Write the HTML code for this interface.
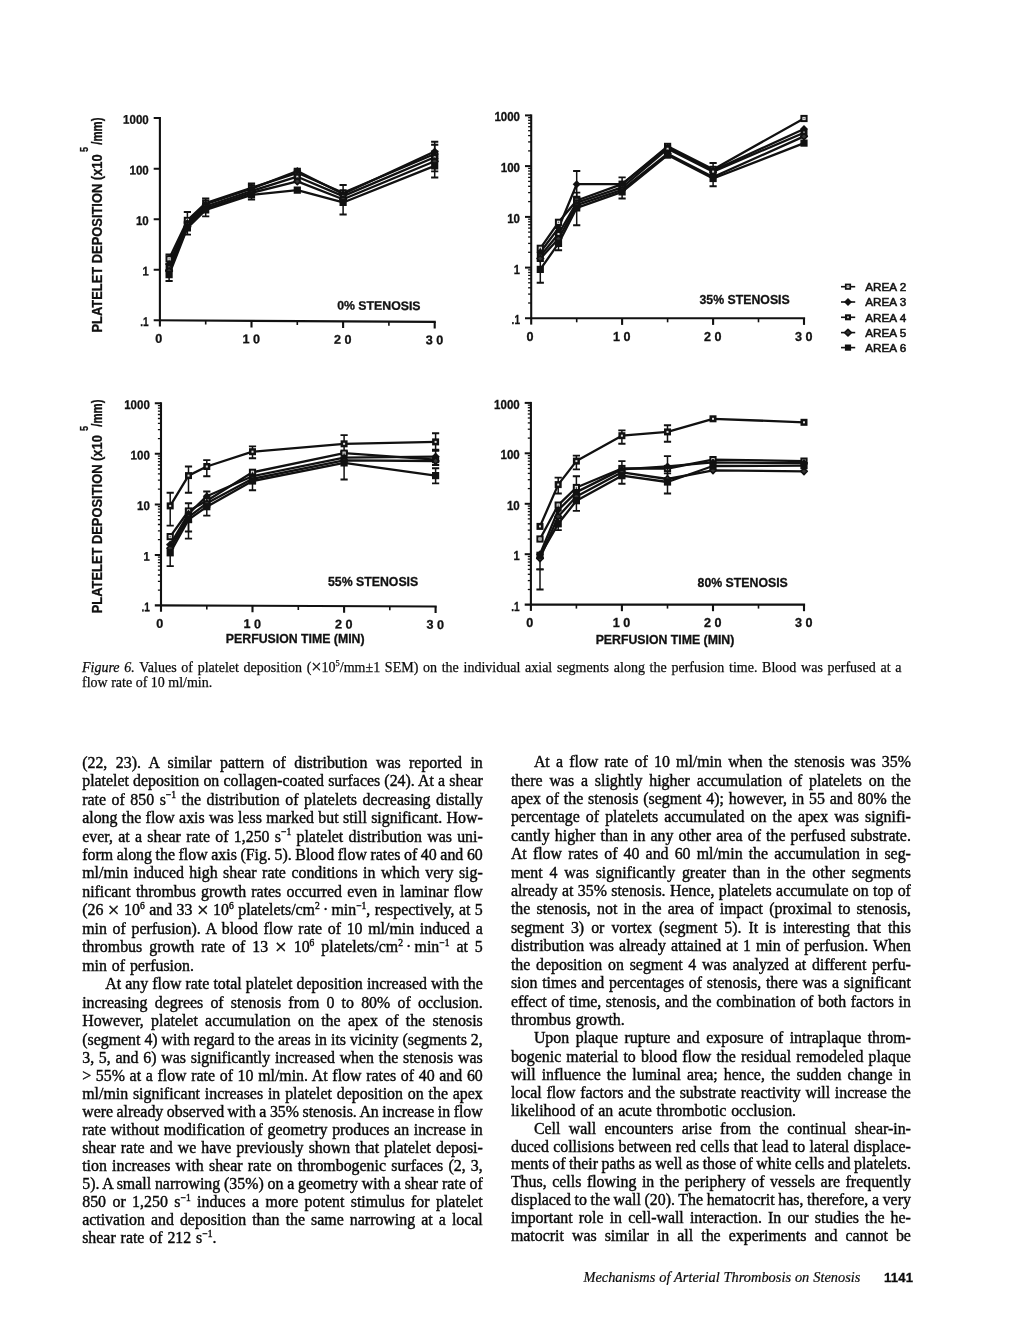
<!DOCTYPE html>
<html lang="en">
<head>
<meta charset="utf-8">
<title>Mechanisms of Arterial Thrombosis on Stenosis - 1141</title>
<style>
html,body{margin:0;padding:0;background:#fff}
body{width:1020px;height:1320px;position:relative;overflow:hidden;color:#0a0a0a}
#pg{position:absolute;left:0;top:0;width:1020px;height:1320px;will-change:transform}
#fig{position:absolute;left:0;top:0}
#fig text{font-family:"Liberation Sans", sans-serif;fill:#111}
.tk{font-size:12.6px;font-weight:bold;stroke:#111;stroke-width:.3px}
.tt{font-size:12.3px;font-weight:bold;stroke:#111;stroke-width:.3px}
.yl{font-size:12.9px;font-weight:bold;stroke:#111;stroke-width:.25px}
.lg{font-size:11.7px;stroke:#111;stroke-width:.55px}
.ln,.cap,.ft,.pn{position:absolute;white-space:nowrap;margin:0}
.ln{font-family:"Liberation Serif", serif;font-size:15.9px;line-height:18px;height:18px;-webkit-text-stroke:.4px #0a0a0a;word-spacing:.9px}
.ln.j{word-spacing:-1.5px}
.j{text-align:justify;text-align-last:justify;white-space:normal}
.ln sup,.cap sup{font-size:.6em;line-height:0;vertical-align:baseline;position:relative;top:-.68em}
.x{font-size:1.3em;line-height:0;position:relative;top:.06em}
.cap{font-family:"Liberation Serif", serif;font-size:14px;line-height:15px;height:15px;-webkit-text-stroke:.25px #111}
.ft{font-family:"Liberation Serif", serif;font-size:14.4px;line-height:18px;text-align:justify;text-align-last:justify;white-space:normal;-webkit-text-stroke:.2px #111}
.pn{font-family:"Liberation Sans", sans-serif;font-size:13.1px;font-weight:bold;line-height:16px;letter-spacing:.2px;-webkit-text-stroke:.3px #111}
</style>
</head>
<body>
<div id="pg">
<svg id="fig" width="1020" height="660" viewBox="0 0 1020 660">
<g id="c1" transform="translate(159.9 320.3) skewY(0.3336) translate(-159.9 -320.3)">
<path d="M159.9 117.1V326.6" stroke="#111" stroke-width="2.1" fill="none"/>
<path d="M153.7 320.3H435.8" stroke="#111" stroke-width="2.1" fill="none"/>
<text x="140.3" y="326.2" textLength="8.4" lengthAdjust="spacingAndGlyphs" class="tk">.1</text>
<path d="M153.7 269.8H159.9" stroke="#111" stroke-width="2"/>
<text x="142.5" y="275.6" textLength="6.2" lengthAdjust="spacingAndGlyphs" class="tk">1</text>
<path d="M153.7 219.2H159.9" stroke="#111" stroke-width="2"/>
<text x="135.9" y="225.1" textLength="12.8" lengthAdjust="spacingAndGlyphs" class="tk">10</text>
<path d="M153.7 168.7H159.9" stroke="#111" stroke-width="2"/>
<text x="129.5" y="174.6" textLength="19.2" lengthAdjust="spacingAndGlyphs" class="tk">100</text>
<path d="M153.7 118.1H159.9" stroke="#111" stroke-width="2"/>
<text x="123.1" y="124.0" textLength="25.6" lengthAdjust="spacingAndGlyphs" class="tk">1000</text>
<path d="M205.7 320.3v4.0" stroke="#111" stroke-width="1.6"/>
<path d="M251.5 320.3v6.6" stroke="#111" stroke-width="2.1"/>
<path d="M297.3 320.3v4.0" stroke="#111" stroke-width="1.6"/>
<path d="M343.1 320.3v6.6" stroke="#111" stroke-width="2.1"/>
<path d="M388.9 320.3v4.0" stroke="#111" stroke-width="1.6"/>
<path d="M434.7 320.3v6.6" stroke="#111" stroke-width="2.1"/>
<text x="158.7" y="342.7" text-anchor="middle" class="tk">0</text>
<text x="251.2" y="342.7" text-anchor="middle" class="tk">1 0</text>
<text x="342.8" y="342.7" text-anchor="middle" class="tk">2 0</text>
<text x="434.4" y="342.7" text-anchor="middle" class="tk">3 0</text>

<text x="337.2" y="308.5" class="tt">0% STENOSIS</text>
<path d="M169.1 264.0V254.5" stroke="#111" stroke-width="1.5" fill="none"/><path d="M165.5 264.0h7.2M165.5 254.5h7.2" stroke="#111" stroke-width="1.9" fill="none"/>
<path d="M187.4 228.7V211.8" stroke="#111" stroke-width="1.5" fill="none"/><path d="M183.8 228.7h7.2M183.8 211.8h7.2" stroke="#111" stroke-width="1.9" fill="none"/>
<path d="M205.7 207.6V198.2" stroke="#111" stroke-width="1.5" fill="none"/><path d="M202.1 207.6h7.2M202.1 198.2h7.2" stroke="#111" stroke-width="1.9" fill="none"/>
<path d="M251.5 191.1V183.0" stroke="#111" stroke-width="1.5" fill="none"/><path d="M247.9 191.1h7.2M247.9 183.0h7.2" stroke="#111" stroke-width="1.9" fill="none"/>
<path d="M343.1 198.2V183.9" stroke="#111" stroke-width="1.5" fill="none"/><path d="M339.5 198.2h7.2M339.5 183.9h7.2" stroke="#111" stroke-width="1.9" fill="none"/>
<path d="M434.7 159.7V143.1" stroke="#111" stroke-width="1.5" fill="none"/><path d="M431.1 159.7h7.2M431.1 143.1h7.2" stroke="#111" stroke-width="1.9" fill="none"/>
<path d="M297.3 172.5V168.0" stroke="#111" stroke-width="1.5" fill="none"/><path d="M293.7 172.5h7.2M293.7 168.0h7.2" stroke="#111" stroke-width="1.9" fill="none"/>
<path d="M434.7 157.0V140.2" stroke="#111" stroke-width="1.5" fill="none"/><path d="M431.1 157.0h7.2M431.1 140.2h7.2" stroke="#111" stroke-width="1.9" fill="none"/>
<path d="M434.7 169.8V152.4" stroke="#111" stroke-width="1.5" fill="none"/><path d="M431.1 169.8h7.2M431.1 152.4h7.2" stroke="#111" stroke-width="1.9" fill="none"/>
<path d="M169.1 281.0V269.8" stroke="#111" stroke-width="1.5" fill="none"/><path d="M165.5 281.0h7.2M165.5 269.8h7.2" stroke="#111" stroke-width="1.9" fill="none"/>
<path d="M187.4 234.4V221.5" stroke="#111" stroke-width="1.5" fill="none"/><path d="M183.8 234.4h7.2M183.8 221.5h7.2" stroke="#111" stroke-width="1.9" fill="none"/>
<path d="M205.7 216.1V205.1" stroke="#111" stroke-width="1.5" fill="none"/><path d="M202.1 216.1h7.2M202.1 205.1h7.2" stroke="#111" stroke-width="1.9" fill="none"/>
<path d="M251.5 199.1V189.9" stroke="#111" stroke-width="1.5" fill="none"/><path d="M247.9 199.1h7.2M247.9 189.9h7.2" stroke="#111" stroke-width="1.9" fill="none"/>
<path d="M343.1 213.4V193.7" stroke="#111" stroke-width="1.5" fill="none"/><path d="M339.5 213.4h7.2M339.5 193.7h7.2" stroke="#111" stroke-width="1.9" fill="none"/>
<path d="M434.7 175.9V157.0" stroke="#111" stroke-width="1.5" fill="none"/><path d="M431.1 175.9h7.2M431.1 157.0h7.2" stroke="#111" stroke-width="1.9" fill="none"/>
<polyline points="169.1,258.8 187.4,220.3 205.7,202.9 251.5,187.2 297.3,172.0 343.1,191.7 434.7,152.4" fill="none" stroke="#111" stroke-width="2.3" stroke-linejoin="round"/>
<polyline points="169.1,264.0 187.4,222.8 205.7,204.0 251.5,188.2 297.3,170.2 343.1,193.0 434.7,149.9" fill="none" stroke="#111" stroke-width="2.3" stroke-linejoin="round"/>
<polyline points="169.1,267.7 187.4,224.1 205.7,206.3 251.5,190.5 297.3,175.9 343.1,195.1 434.7,155.7" fill="none" stroke="#111" stroke-width="2.3" stroke-linejoin="round"/>
<polyline points="169.1,270.9 187.4,226.4 205.7,208.2 251.5,192.3 297.3,180.6 343.1,198.2 434.7,159.7" fill="none" stroke="#111" stroke-width="2.3" stroke-linejoin="round"/>
<polyline points="169.1,274.6 187.4,227.7 205.7,209.6 251.5,194.4 297.3,189.3 343.1,201.4 434.7,164.3" fill="none" stroke="#111" stroke-width="2.3" stroke-linejoin="round"/>
<rect x="166.5" y="256.2" width="5.2" height="5.2" fill="#eee" stroke="#111" stroke-width="2"/><rect x="168.4" y="258.1" width="1.4" height="1.4" fill="#666"/>
<rect x="184.8" y="217.7" width="5.2" height="5.2" fill="#eee" stroke="#111" stroke-width="2"/><rect x="186.7" y="219.6" width="1.4" height="1.4" fill="#666"/>
<rect x="203.1" y="200.3" width="5.2" height="5.2" fill="#eee" stroke="#111" stroke-width="2"/><rect x="205.0" y="202.2" width="1.4" height="1.4" fill="#666"/>
<rect x="248.9" y="184.6" width="5.2" height="5.2" fill="#eee" stroke="#111" stroke-width="2"/><rect x="250.8" y="186.5" width="1.4" height="1.4" fill="#666"/>
<rect x="294.7" y="169.4" width="5.2" height="5.2" fill="#eee" stroke="#111" stroke-width="2"/><rect x="296.6" y="171.3" width="1.4" height="1.4" fill="#666"/>
<rect x="340.5" y="189.1" width="5.2" height="5.2" fill="#eee" stroke="#111" stroke-width="2"/><rect x="342.4" y="191.0" width="1.4" height="1.4" fill="#666"/>
<rect x="432.1" y="149.8" width="5.2" height="5.2" fill="#eee" stroke="#111" stroke-width="2"/><rect x="434.0" y="151.7" width="1.4" height="1.4" fill="#666"/>
<path d="M165.1 264.0L169.1 260.0L173.1 264.0L169.1 268.0Z" fill="#111"/>
<path d="M183.4 222.8L187.4 218.8L191.4 222.8L187.4 226.8Z" fill="#111"/>
<path d="M201.7 204.0L205.7 200.0L209.7 204.0L205.7 208.0Z" fill="#111"/>
<path d="M247.5 188.2L251.5 184.2L255.5 188.2L251.5 192.2Z" fill="#111"/>
<path d="M293.3 170.2L297.3 166.2L301.3 170.2L297.3 174.2Z" fill="#111"/>
<path d="M339.1 193.0L343.1 189.0L347.1 193.0L343.1 197.0Z" fill="#111"/>
<path d="M430.7 149.9L434.7 145.9L438.7 149.9L434.7 153.9Z" fill="#111"/>
<rect x="165.6" y="264.2" width="7.0" height="7.0" fill="#111"/><rect x="168.1" y="266.7" width="2.0" height="2.0" fill="#ddd"/>
<rect x="183.9" y="220.6" width="7.0" height="7.0" fill="#111"/><rect x="186.4" y="223.1" width="2.0" height="2.0" fill="#ddd"/>
<rect x="202.2" y="202.8" width="7.0" height="7.0" fill="#111"/><rect x="204.7" y="205.3" width="2.0" height="2.0" fill="#ddd"/>
<rect x="248.0" y="187.0" width="7.0" height="7.0" fill="#111"/><rect x="250.5" y="189.5" width="2.0" height="2.0" fill="#ddd"/>
<rect x="293.8" y="172.4" width="7.0" height="7.0" fill="#111"/><rect x="296.3" y="174.9" width="2.0" height="2.0" fill="#ddd"/>
<rect x="339.6" y="191.6" width="7.0" height="7.0" fill="#111"/><rect x="342.1" y="194.1" width="2.0" height="2.0" fill="#ddd"/>
<rect x="431.2" y="152.2" width="7.0" height="7.0" fill="#111"/><rect x="433.7" y="154.7" width="2.0" height="2.0" fill="#ddd"/>
<path d="M165.8 270.9L169.1 267.6L172.4 270.9L169.1 274.2Z" fill="#333" stroke="#111" stroke-width="1.6" stroke-linejoin="round"/>
<path d="M184.1 226.4L187.4 223.1L190.7 226.4L187.4 229.7Z" fill="#333" stroke="#111" stroke-width="1.6" stroke-linejoin="round"/>
<path d="M202.4 208.2L205.7 204.9L209.0 208.2L205.7 211.5Z" fill="#333" stroke="#111" stroke-width="1.6" stroke-linejoin="round"/>
<path d="M248.2 192.3L251.5 189.0L254.8 192.3L251.5 195.6Z" fill="#333" stroke="#111" stroke-width="1.6" stroke-linejoin="round"/>
<path d="M294.0 180.6L297.3 177.3L300.6 180.6L297.3 183.9Z" fill="#333" stroke="#111" stroke-width="1.6" stroke-linejoin="round"/>
<path d="M339.8 198.2L343.1 194.9L346.4 198.2L343.1 201.5Z" fill="#333" stroke="#111" stroke-width="1.6" stroke-linejoin="round"/>
<path d="M431.4 159.7L434.7 156.4L438.0 159.7L434.7 163.0Z" fill="#333" stroke="#111" stroke-width="1.6" stroke-linejoin="round"/>
<rect x="165.5" y="271.0" width="7.2" height="7.2" fill="#111"/>
<rect x="183.8" y="224.1" width="7.2" height="7.2" fill="#111"/>
<rect x="202.1" y="206.0" width="7.2" height="7.2" fill="#111"/>
<rect x="247.9" y="190.8" width="7.2" height="7.2" fill="#111"/>
<rect x="293.7" y="185.7" width="7.2" height="7.2" fill="#111"/>
<rect x="339.5" y="197.8" width="7.2" height="7.2" fill="#111"/>
<rect x="431.1" y="160.7" width="7.2" height="7.2" fill="#111"/>
</g>
<g id="c2">
<path d="M531.2 114.4V324.6" stroke="#111" stroke-width="2.1" fill="none"/>
<path d="M525.0 318.3H805.1" stroke="#111" stroke-width="2.1" fill="none"/>
<text x="511.6" y="324.2" textLength="8.4" lengthAdjust="spacingAndGlyphs" class="tk">.1</text>
<path d="M528.1 303.0H531.2" stroke="#111" stroke-width="1.3"/>
<path d="M528.1 294.1H531.2" stroke="#111" stroke-width="1.3"/>
<path d="M528.1 287.8H531.2" stroke="#111" stroke-width="1.3"/>
<path d="M528.1 282.8H531.2" stroke="#111" stroke-width="1.3"/>
<path d="M528.1 278.8H531.2" stroke="#111" stroke-width="1.3"/>
<path d="M528.1 275.4H531.2" stroke="#111" stroke-width="1.3"/>
<path d="M528.1 272.5H531.2" stroke="#111" stroke-width="1.3"/>
<path d="M528.1 269.9H531.2" stroke="#111" stroke-width="1.3"/>
<path d="M525.0 267.6H531.2" stroke="#111" stroke-width="2"/>
<text x="513.8" y="273.5" textLength="6.2" lengthAdjust="spacingAndGlyphs" class="tk">1</text>
<path d="M528.1 252.3H531.2" stroke="#111" stroke-width="1.3"/>
<path d="M528.1 243.4H531.2" stroke="#111" stroke-width="1.3"/>
<path d="M528.1 237.0H531.2" stroke="#111" stroke-width="1.3"/>
<path d="M528.1 232.1H531.2" stroke="#111" stroke-width="1.3"/>
<path d="M528.1 228.1H531.2" stroke="#111" stroke-width="1.3"/>
<path d="M528.1 224.7H531.2" stroke="#111" stroke-width="1.3"/>
<path d="M528.1 221.8H531.2" stroke="#111" stroke-width="1.3"/>
<path d="M528.1 219.2H531.2" stroke="#111" stroke-width="1.3"/>
<path d="M525.0 216.9H531.2" stroke="#111" stroke-width="2"/>
<text x="507.2" y="222.8" textLength="12.8" lengthAdjust="spacingAndGlyphs" class="tk">10</text>
<path d="M528.1 201.6H531.2" stroke="#111" stroke-width="1.3"/>
<path d="M528.1 192.6H531.2" stroke="#111" stroke-width="1.3"/>
<path d="M528.1 186.3H531.2" stroke="#111" stroke-width="1.3"/>
<path d="M528.1 181.4H531.2" stroke="#111" stroke-width="1.3"/>
<path d="M528.1 177.4H531.2" stroke="#111" stroke-width="1.3"/>
<path d="M528.1 174.0H531.2" stroke="#111" stroke-width="1.3"/>
<path d="M528.1 171.0H531.2" stroke="#111" stroke-width="1.3"/>
<path d="M528.1 168.4H531.2" stroke="#111" stroke-width="1.3"/>
<path d="M525.0 166.1H531.2" stroke="#111" stroke-width="2"/>
<text x="500.8" y="172.0" textLength="19.2" lengthAdjust="spacingAndGlyphs" class="tk">100</text>
<path d="M528.1 150.9H531.2" stroke="#111" stroke-width="1.3"/>
<path d="M528.1 141.9H531.2" stroke="#111" stroke-width="1.3"/>
<path d="M528.1 135.6H531.2" stroke="#111" stroke-width="1.3"/>
<path d="M528.1 130.7H531.2" stroke="#111" stroke-width="1.3"/>
<path d="M528.1 126.7H531.2" stroke="#111" stroke-width="1.3"/>
<path d="M528.1 123.3H531.2" stroke="#111" stroke-width="1.3"/>
<path d="M528.1 120.3H531.2" stroke="#111" stroke-width="1.3"/>
<path d="M528.1 117.7H531.2" stroke="#111" stroke-width="1.3"/>
<path d="M525.0 115.4H531.2" stroke="#111" stroke-width="2"/>
<text x="494.4" y="121.3" textLength="25.6" lengthAdjust="spacingAndGlyphs" class="tk">1000</text>
<path d="M576.7 318.3v4.0" stroke="#111" stroke-width="1.6"/>
<path d="M622.1 318.3v6.6" stroke="#111" stroke-width="2.1"/>
<path d="M667.6 318.3v4.0" stroke="#111" stroke-width="1.6"/>
<path d="M713.1 318.3v6.6" stroke="#111" stroke-width="2.1"/>
<path d="M758.5 318.3v4.0" stroke="#111" stroke-width="1.6"/>
<path d="M804.0 318.3v6.6" stroke="#111" stroke-width="2.1"/>
<text x="530.0" y="340.7" text-anchor="middle" class="tk">0</text>
<text x="621.8" y="340.7" text-anchor="middle" class="tk">1 0</text>
<text x="712.8" y="340.7" text-anchor="middle" class="tk">2 0</text>
<text x="803.7" y="340.7" text-anchor="middle" class="tk">3 0</text>

<text x="699.5" y="304.0" class="tt">35% STENOSIS</text>
<path d="M576.7 207.9V192.6" stroke="#111" stroke-width="1.5" fill="none"/><path d="M573.1 207.9h7.2M573.1 192.6h7.2" stroke="#111" stroke-width="1.9" fill="none"/>
<path d="M622.1 189.3V177.4" stroke="#111" stroke-width="1.5" fill="none"/><path d="M618.5 189.3h7.2M618.5 177.4h7.2" stroke="#111" stroke-width="1.9" fill="none"/>
<path d="M713.1 175.6V163.0" stroke="#111" stroke-width="1.5" fill="none"/><path d="M709.5 175.6h7.2M709.5 163.0h7.2" stroke="#111" stroke-width="1.9" fill="none"/>
<path d="M576.7 196.7V171.0" stroke="#111" stroke-width="1.5" fill="none"/><path d="M573.1 196.7h7.2M573.1 171.0h7.2" stroke="#111" stroke-width="1.9" fill="none"/>
<path d="M540.3 282.8V261.0" stroke="#111" stroke-width="1.5" fill="none"/><path d="M536.7 282.8h7.2M536.7 261.0h7.2" stroke="#111" stroke-width="1.9" fill="none"/>
<path d="M558.5 250.2V237.0" stroke="#111" stroke-width="1.5" fill="none"/><path d="M554.9 250.2h7.2M554.9 237.0h7.2" stroke="#111" stroke-width="1.9" fill="none"/>
<path d="M576.7 225.3V197.6" stroke="#111" stroke-width="1.5" fill="none"/><path d="M573.1 225.3h7.2M573.1 197.6h7.2" stroke="#111" stroke-width="1.9" fill="none"/>
<path d="M622.1 198.5V186.3" stroke="#111" stroke-width="1.5" fill="none"/><path d="M618.5 198.5h7.2M618.5 186.3h7.2" stroke="#111" stroke-width="1.9" fill="none"/>
<path d="M713.1 186.3V172.5" stroke="#111" stroke-width="1.5" fill="none"/><path d="M709.5 186.3h7.2M709.5 172.5h7.2" stroke="#111" stroke-width="1.9" fill="none"/>
<polyline points="540.3,248.3 558.5,222.3 576.7,200.5 622.1,184.2 667.6,146.4 713.1,169.4 804.0,118.5" fill="none" stroke="#111" stroke-width="2.3" stroke-linejoin="round"/>
<polyline points="540.3,252.3 558.5,228.1 576.7,184.2 622.1,184.2 667.6,147.6 713.1,170.5 804.0,129.0" fill="none" stroke="#111" stroke-width="2.3" stroke-linejoin="round"/>
<polyline points="540.3,255.9 558.5,234.0 576.7,202.7 622.1,187.4 667.6,148.8 713.1,171.6 804.0,132.7" fill="none" stroke="#111" stroke-width="2.3" stroke-linejoin="round"/>
<polyline points="540.3,258.6 558.5,238.8 576.7,205.2 622.1,189.9 667.6,153.7 713.1,177.0 804.0,136.4" fill="none" stroke="#111" stroke-width="2.3" stroke-linejoin="round"/>
<polyline points="540.3,269.4 558.5,243.4 576.7,207.9 622.1,191.9 667.6,155.1 713.1,178.5 804.0,143.1" fill="none" stroke="#111" stroke-width="2.3" stroke-linejoin="round"/>
<rect x="537.7" y="245.7" width="5.2" height="5.2" fill="#eee" stroke="#111" stroke-width="2"/><rect x="539.6" y="247.6" width="1.4" height="1.4" fill="#666"/>
<rect x="555.9" y="219.7" width="5.2" height="5.2" fill="#eee" stroke="#111" stroke-width="2"/><rect x="557.8" y="221.6" width="1.4" height="1.4" fill="#666"/>
<rect x="574.1" y="197.9" width="5.2" height="5.2" fill="#eee" stroke="#111" stroke-width="2"/><rect x="576.0" y="199.8" width="1.4" height="1.4" fill="#666"/>
<rect x="619.5" y="181.6" width="5.2" height="5.2" fill="#eee" stroke="#111" stroke-width="2"/><rect x="621.4" y="183.5" width="1.4" height="1.4" fill="#666"/>
<rect x="665.0" y="143.8" width="5.2" height="5.2" fill="#eee" stroke="#111" stroke-width="2"/><rect x="666.9" y="145.7" width="1.4" height="1.4" fill="#666"/>
<rect x="710.5" y="166.8" width="5.2" height="5.2" fill="#eee" stroke="#111" stroke-width="2"/><rect x="712.4" y="168.7" width="1.4" height="1.4" fill="#666"/>
<rect x="801.4" y="115.9" width="5.2" height="5.2" fill="#eee" stroke="#111" stroke-width="2"/><rect x="803.3" y="117.8" width="1.4" height="1.4" fill="#666"/>
<path d="M536.3 252.3L540.3 248.3L544.3 252.3L540.3 256.3Z" fill="#111"/>
<path d="M554.5 228.1L558.5 224.1L562.5 228.1L558.5 232.1Z" fill="#111"/>
<path d="M572.7 184.2L576.7 180.2L580.7 184.2L576.7 188.2Z" fill="#111"/>
<path d="M618.1 184.2L622.1 180.2L626.1 184.2L622.1 188.2Z" fill="#111"/>
<path d="M663.6 147.6L667.6 143.6L671.6 147.6L667.6 151.6Z" fill="#111"/>
<path d="M709.1 170.5L713.1 166.5L717.1 170.5L713.1 174.5Z" fill="#111"/>
<path d="M800.0 129.0L804.0 125.0L808.0 129.0L804.0 133.0Z" fill="#111"/>
<rect x="536.8" y="252.4" width="7.0" height="7.0" fill="#111"/><rect x="539.3" y="254.9" width="2.0" height="2.0" fill="#ddd"/>
<rect x="555.0" y="230.5" width="7.0" height="7.0" fill="#111"/><rect x="557.5" y="233.0" width="2.0" height="2.0" fill="#ddd"/>
<rect x="573.2" y="199.2" width="7.0" height="7.0" fill="#111"/><rect x="575.7" y="201.7" width="2.0" height="2.0" fill="#ddd"/>
<rect x="618.6" y="183.9" width="7.0" height="7.0" fill="#111"/><rect x="621.1" y="186.4" width="2.0" height="2.0" fill="#ddd"/>
<rect x="664.1" y="145.3" width="7.0" height="7.0" fill="#111"/><rect x="666.6" y="147.8" width="2.0" height="2.0" fill="#ddd"/>
<rect x="709.6" y="168.1" width="7.0" height="7.0" fill="#111"/><rect x="712.1" y="170.6" width="2.0" height="2.0" fill="#ddd"/>
<rect x="800.5" y="129.2" width="7.0" height="7.0" fill="#111"/><rect x="803.0" y="131.7" width="2.0" height="2.0" fill="#ddd"/>
<path d="M537.0 258.6L540.3 255.3L543.6 258.6L540.3 261.9Z" fill="#333" stroke="#111" stroke-width="1.6" stroke-linejoin="round"/>
<path d="M555.2 238.8L558.5 235.5L561.8 238.8L558.5 242.1Z" fill="#333" stroke="#111" stroke-width="1.6" stroke-linejoin="round"/>
<path d="M573.4 205.2L576.7 201.9L580.0 205.2L576.7 208.5Z" fill="#333" stroke="#111" stroke-width="1.6" stroke-linejoin="round"/>
<path d="M618.8 189.9L622.1 186.6L625.4 189.9L622.1 193.2Z" fill="#333" stroke="#111" stroke-width="1.6" stroke-linejoin="round"/>
<path d="M664.3 153.7L667.6 150.4L670.9 153.7L667.6 157.0Z" fill="#333" stroke="#111" stroke-width="1.6" stroke-linejoin="round"/>
<path d="M709.8 177.0L713.1 173.7L716.4 177.0L713.1 180.3Z" fill="#333" stroke="#111" stroke-width="1.6" stroke-linejoin="round"/>
<path d="M800.7 136.4L804.0 133.1L807.3 136.4L804.0 139.7Z" fill="#333" stroke="#111" stroke-width="1.6" stroke-linejoin="round"/>
<rect x="536.7" y="265.8" width="7.2" height="7.2" fill="#111"/>
<rect x="554.9" y="239.8" width="7.2" height="7.2" fill="#111"/>
<rect x="573.1" y="204.3" width="7.2" height="7.2" fill="#111"/>
<rect x="618.5" y="188.3" width="7.2" height="7.2" fill="#111"/>
<rect x="664.0" y="151.5" width="7.2" height="7.2" fill="#111"/>
<rect x="709.5" y="174.9" width="7.2" height="7.2" fill="#111"/>
<rect x="800.4" y="139.5" width="7.2" height="7.2" fill="#111"/>
</g>
<g id="c3">
<g transform="translate(161.0 605.4) skewY(0.2295) translate(-161.0 -605.4)"><path d="M161.0 402.3V611.7" stroke="#111" stroke-width="2.1" fill="none"/>
<path d="M154.8 605.4H436.7" stroke="#111" stroke-width="2.1" fill="none"/>
<text x="141.4" y="611.3" textLength="8.4" lengthAdjust="spacingAndGlyphs" class="tk">.1</text>
<path d="M157.9 590.2H161.0" stroke="#111" stroke-width="1.3"/>
<path d="M157.9 581.3H161.0" stroke="#111" stroke-width="1.3"/>
<path d="M157.9 575.0H161.0" stroke="#111" stroke-width="1.3"/>
<path d="M157.9 570.1H161.0" stroke="#111" stroke-width="1.3"/>
<path d="M157.9 566.1H161.0" stroke="#111" stroke-width="1.3"/>
<path d="M157.9 562.7H161.0" stroke="#111" stroke-width="1.3"/>
<path d="M157.9 559.8H161.0" stroke="#111" stroke-width="1.3"/>
<path d="M157.9 557.2H161.0" stroke="#111" stroke-width="1.3"/>
<path d="M154.8 554.9H161.0" stroke="#111" stroke-width="2"/>
<text x="143.6" y="560.8" textLength="6.2" lengthAdjust="spacingAndGlyphs" class="tk">1</text>
<path d="M157.9 539.7H161.0" stroke="#111" stroke-width="1.3"/>
<path d="M157.9 530.8H161.0" stroke="#111" stroke-width="1.3"/>
<path d="M157.9 524.5H161.0" stroke="#111" stroke-width="1.3"/>
<path d="M157.9 519.6H161.0" stroke="#111" stroke-width="1.3"/>
<path d="M157.9 515.6H161.0" stroke="#111" stroke-width="1.3"/>
<path d="M157.9 512.2H161.0" stroke="#111" stroke-width="1.3"/>
<path d="M157.9 509.2H161.0" stroke="#111" stroke-width="1.3"/>
<path d="M157.9 506.7H161.0" stroke="#111" stroke-width="1.3"/>
<path d="M154.8 504.4H161.0" stroke="#111" stroke-width="2"/>
<text x="137.0" y="510.2" textLength="12.8" lengthAdjust="spacingAndGlyphs" class="tk">10</text>
<path d="M157.9 489.1H161.0" stroke="#111" stroke-width="1.3"/>
<path d="M157.9 480.2H161.0" stroke="#111" stroke-width="1.3"/>
<path d="M157.9 473.9H161.0" stroke="#111" stroke-width="1.3"/>
<path d="M157.9 469.0H161.0" stroke="#111" stroke-width="1.3"/>
<path d="M157.9 465.0H161.0" stroke="#111" stroke-width="1.3"/>
<path d="M157.9 461.7H161.0" stroke="#111" stroke-width="1.3"/>
<path d="M157.9 458.7H161.0" stroke="#111" stroke-width="1.3"/>
<path d="M157.9 456.1H161.0" stroke="#111" stroke-width="1.3"/>
<path d="M154.8 453.8H161.0" stroke="#111" stroke-width="2"/>
<text x="130.6" y="459.7" textLength="19.2" lengthAdjust="spacingAndGlyphs" class="tk">100</text>
<path d="M157.9 438.6H161.0" stroke="#111" stroke-width="1.3"/>
<path d="M157.9 429.7H161.0" stroke="#111" stroke-width="1.3"/>
<path d="M157.9 423.4H161.0" stroke="#111" stroke-width="1.3"/>
<path d="M157.9 418.5H161.0" stroke="#111" stroke-width="1.3"/>
<path d="M157.9 414.5H161.0" stroke="#111" stroke-width="1.3"/>
<path d="M157.9 411.1H161.0" stroke="#111" stroke-width="1.3"/>
<path d="M157.9 408.2H161.0" stroke="#111" stroke-width="1.3"/>
<path d="M157.9 405.6H161.0" stroke="#111" stroke-width="1.3"/>
<path d="M154.8 403.3H161.0" stroke="#111" stroke-width="2"/>
<text x="124.2" y="409.2" textLength="25.6" lengthAdjust="spacingAndGlyphs" class="tk">1000</text>
<path d="M206.8 605.4v4.0" stroke="#111" stroke-width="1.6"/>
<path d="M252.5 605.4v6.6" stroke="#111" stroke-width="2.1"/>
<path d="M298.3 605.4v4.0" stroke="#111" stroke-width="1.6"/>
<path d="M344.1 605.4v6.6" stroke="#111" stroke-width="2.1"/>
<path d="M389.8 605.4v4.0" stroke="#111" stroke-width="1.6"/>
<path d="M435.6 605.4v6.6" stroke="#111" stroke-width="2.1"/>
<text x="159.8" y="627.8" text-anchor="middle" class="tk">0</text>
<text x="252.2" y="627.8" text-anchor="middle" class="tk">1 0</text>
<text x="343.8" y="627.8" text-anchor="middle" class="tk">2 0</text>
<text x="435.3" y="627.8" text-anchor="middle" class="tk">3 0</text>
</g>

<text x="328.0" y="585.9" class="tt">55% STENOSIS</text>
<path d="M170.2 525.6V492.7" stroke="#111" stroke-width="1.5" fill="none"/><path d="M166.6 525.6h7.2M166.6 492.7h7.2" stroke="#111" stroke-width="1.9" fill="none"/>
<path d="M188.5 492.7V466.5" stroke="#111" stroke-width="1.5" fill="none"/><path d="M184.9 492.7h7.2M184.9 466.5h7.2" stroke="#111" stroke-width="1.9" fill="none"/>
<path d="M206.8 476.2V460.1" stroke="#111" stroke-width="1.5" fill="none"/><path d="M203.2 476.2h7.2M203.2 460.1h7.2" stroke="#111" stroke-width="1.9" fill="none"/>
<path d="M252.5 458.2V446.4" stroke="#111" stroke-width="1.5" fill="none"/><path d="M248.9 458.2h7.2M248.9 446.4h7.2" stroke="#111" stroke-width="1.9" fill="none"/>
<path d="M344.1 451.7V435.1" stroke="#111" stroke-width="1.5" fill="none"/><path d="M340.5 451.7h7.2M340.5 435.1h7.2" stroke="#111" stroke-width="1.9" fill="none"/>
<path d="M435.6 450.8V433.3" stroke="#111" stroke-width="1.5" fill="none"/><path d="M432.0 450.8h7.2M432.0 433.3h7.2" stroke="#111" stroke-width="1.9" fill="none"/>
<path d="M188.5 521.9V503.3" stroke="#111" stroke-width="1.5" fill="none"/><path d="M184.9 521.9h7.2M184.9 503.3h7.2" stroke="#111" stroke-width="1.9" fill="none"/>
<path d="M206.8 506.7V491.5" stroke="#111" stroke-width="1.5" fill="none"/><path d="M203.2 506.7h7.2M203.2 491.5h7.2" stroke="#111" stroke-width="1.9" fill="none"/>
<path d="M435.6 465.0V449.8" stroke="#111" stroke-width="1.5" fill="none"/><path d="M432.0 465.0h7.2M432.0 449.8h7.2" stroke="#111" stroke-width="1.9" fill="none"/>
<path d="M188.5 531.5V509.2" stroke="#111" stroke-width="1.5" fill="none"/><path d="M184.9 531.5h7.2M184.9 509.2h7.2" stroke="#111" stroke-width="1.9" fill="none"/>
<path d="M170.2 566.1V544.6" stroke="#111" stroke-width="1.5" fill="none"/><path d="M166.6 566.1h7.2M166.6 544.6h7.2" stroke="#111" stroke-width="1.9" fill="none"/>
<path d="M188.5 538.6V512.2" stroke="#111" stroke-width="1.5" fill="none"/><path d="M184.9 538.6h7.2M184.9 512.2h7.2" stroke="#111" stroke-width="1.9" fill="none"/>
<path d="M206.8 515.6V500.3" stroke="#111" stroke-width="1.5" fill="none"/><path d="M203.2 515.6h7.2M203.2 500.3h7.2" stroke="#111" stroke-width="1.9" fill="none"/>
<path d="M252.5 490.3V473.9" stroke="#111" stroke-width="1.5" fill="none"/><path d="M248.9 490.3h7.2M248.9 473.9h7.2" stroke="#111" stroke-width="1.9" fill="none"/>
<path d="M344.1 479.5V451.7" stroke="#111" stroke-width="1.5" fill="none"/><path d="M340.5 479.5h7.2M340.5 451.7h7.2" stroke="#111" stroke-width="1.9" fill="none"/>
<path d="M435.6 483.4V468.2" stroke="#111" stroke-width="1.5" fill="none"/><path d="M432.0 483.4h7.2M432.0 468.2h7.2" stroke="#111" stroke-width="1.9" fill="none"/>
<polyline points="170.2,505.9 188.5,475.6 206.8,466.5 252.5,451.7 344.1,443.8 435.6,441.9" fill="none" stroke="#111" stroke-width="2.3" stroke-linejoin="round"/>
<polyline points="170.2,536.6 188.5,511.0 206.8,500.7 252.5,472.3 344.1,453.2 435.6,459.6" fill="none" stroke="#111" stroke-width="2.3" stroke-linejoin="round"/>
<polyline points="170.2,544.6 188.5,513.8 206.8,496.2 252.5,476.2 344.1,457.7 435.6,456.6" fill="none" stroke="#111" stroke-width="2.3" stroke-linejoin="round"/>
<polyline points="170.2,548.3 188.5,517.1 206.8,503.3 252.5,478.8 344.1,460.4 435.6,461.0" fill="none" stroke="#111" stroke-width="2.3" stroke-linejoin="round"/>
<polyline points="170.2,552.8 188.5,519.6 206.8,506.7 252.5,481.0 344.1,462.9 435.6,475.6" fill="none" stroke="#111" stroke-width="2.3" stroke-linejoin="round"/>
<rect x="166.7" y="502.4" width="7.0" height="7.0" fill="#111"/><rect x="169.2" y="504.9" width="2.0" height="2.0" fill="#ddd"/>
<rect x="185.0" y="472.1" width="7.0" height="7.0" fill="#111"/><rect x="187.5" y="474.6" width="2.0" height="2.0" fill="#ddd"/>
<rect x="203.3" y="463.0" width="7.0" height="7.0" fill="#111"/><rect x="205.8" y="465.5" width="2.0" height="2.0" fill="#ddd"/>
<rect x="249.0" y="448.2" width="7.0" height="7.0" fill="#111"/><rect x="251.5" y="450.7" width="2.0" height="2.0" fill="#ddd"/>
<rect x="340.6" y="440.3" width="7.0" height="7.0" fill="#111"/><rect x="343.1" y="442.8" width="2.0" height="2.0" fill="#ddd"/>
<rect x="432.1" y="438.4" width="7.0" height="7.0" fill="#111"/><rect x="434.6" y="440.9" width="2.0" height="2.0" fill="#ddd"/>
<rect x="167.6" y="534.0" width="5.2" height="5.2" fill="#eee" stroke="#111" stroke-width="2"/><rect x="169.5" y="535.9" width="1.4" height="1.4" fill="#666"/>
<rect x="185.9" y="508.4" width="5.2" height="5.2" fill="#eee" stroke="#111" stroke-width="2"/><rect x="187.8" y="510.3" width="1.4" height="1.4" fill="#666"/>
<rect x="204.2" y="498.1" width="5.2" height="5.2" fill="#eee" stroke="#111" stroke-width="2"/><rect x="206.1" y="500.0" width="1.4" height="1.4" fill="#666"/>
<rect x="249.9" y="469.7" width="5.2" height="5.2" fill="#eee" stroke="#111" stroke-width="2"/><rect x="251.8" y="471.6" width="1.4" height="1.4" fill="#666"/>
<rect x="341.5" y="450.6" width="5.2" height="5.2" fill="#eee" stroke="#111" stroke-width="2"/><rect x="343.4" y="452.5" width="1.4" height="1.4" fill="#666"/>
<rect x="433.0" y="457.0" width="5.2" height="5.2" fill="#eee" stroke="#111" stroke-width="2"/><rect x="434.9" y="458.9" width="1.4" height="1.4" fill="#666"/>
<path d="M166.2 544.6L170.2 540.6L174.2 544.6L170.2 548.6Z" fill="#111"/>
<path d="M184.5 513.8L188.5 509.8L192.5 513.8L188.5 517.8Z" fill="#111"/>
<path d="M202.8 496.2L206.8 492.2L210.8 496.2L206.8 500.2Z" fill="#111"/>
<path d="M248.5 476.2L252.5 472.2L256.5 476.2L252.5 480.2Z" fill="#111"/>
<path d="M340.1 457.7L344.1 453.7L348.1 457.7L344.1 461.7Z" fill="#111"/>
<path d="M431.6 456.6L435.6 452.6L439.6 456.6L435.6 460.6Z" fill="#111"/>
<path d="M166.9 548.3L170.2 545.0L173.5 548.3L170.2 551.6Z" fill="#333" stroke="#111" stroke-width="1.6" stroke-linejoin="round"/>
<path d="M185.2 517.1L188.5 513.8L191.8 517.1L188.5 520.4Z" fill="#333" stroke="#111" stroke-width="1.6" stroke-linejoin="round"/>
<path d="M203.5 503.3L206.8 500.0L210.1 503.3L206.8 506.6Z" fill="#333" stroke="#111" stroke-width="1.6" stroke-linejoin="round"/>
<path d="M249.2 478.8L252.5 475.5L255.8 478.8L252.5 482.1Z" fill="#333" stroke="#111" stroke-width="1.6" stroke-linejoin="round"/>
<path d="M340.8 460.4L344.1 457.1L347.4 460.4L344.1 463.7Z" fill="#333" stroke="#111" stroke-width="1.6" stroke-linejoin="round"/>
<path d="M432.3 461.0L435.6 457.7L438.9 461.0L435.6 464.3Z" fill="#333" stroke="#111" stroke-width="1.6" stroke-linejoin="round"/>
<rect x="166.6" y="549.2" width="7.2" height="7.2" fill="#111"/>
<rect x="184.9" y="516.0" width="7.2" height="7.2" fill="#111"/>
<rect x="203.2" y="503.1" width="7.2" height="7.2" fill="#111"/>
<rect x="248.9" y="477.4" width="7.2" height="7.2" fill="#111"/>
<rect x="340.5" y="459.3" width="7.2" height="7.2" fill="#111"/>
<rect x="432.0" y="472.0" width="7.2" height="7.2" fill="#111"/>
</g>
<g id="c4">
<path d="M530.9 401.9V610.9" stroke="#111" stroke-width="2.1" fill="none"/>
<path d="M524.7 604.6H805.1" stroke="#111" stroke-width="2.1" fill="none"/>
<text x="511.3" y="610.5" textLength="8.4" lengthAdjust="spacingAndGlyphs" class="tk">.1</text>
<path d="M527.8 589.5H530.9" stroke="#111" stroke-width="1.3"/>
<path d="M527.8 580.6H530.9" stroke="#111" stroke-width="1.3"/>
<path d="M527.8 574.3H530.9" stroke="#111" stroke-width="1.3"/>
<path d="M527.8 569.4H530.9" stroke="#111" stroke-width="1.3"/>
<path d="M527.8 565.4H530.9" stroke="#111" stroke-width="1.3"/>
<path d="M527.8 562.0H530.9" stroke="#111" stroke-width="1.3"/>
<path d="M527.8 559.1H530.9" stroke="#111" stroke-width="1.3"/>
<path d="M527.8 556.5H530.9" stroke="#111" stroke-width="1.3"/>
<path d="M524.7 554.2H530.9" stroke="#111" stroke-width="2"/>
<text x="513.5" y="560.1" textLength="6.2" lengthAdjust="spacingAndGlyphs" class="tk">1</text>
<path d="M527.8 539.0H530.9" stroke="#111" stroke-width="1.3"/>
<path d="M527.8 530.1H530.9" stroke="#111" stroke-width="1.3"/>
<path d="M527.8 523.8H530.9" stroke="#111" stroke-width="1.3"/>
<path d="M527.8 518.9H530.9" stroke="#111" stroke-width="1.3"/>
<path d="M527.8 514.9H530.9" stroke="#111" stroke-width="1.3"/>
<path d="M527.8 511.6H530.9" stroke="#111" stroke-width="1.3"/>
<path d="M527.8 508.6H530.9" stroke="#111" stroke-width="1.3"/>
<path d="M527.8 506.1H530.9" stroke="#111" stroke-width="1.3"/>
<path d="M524.7 503.8H530.9" stroke="#111" stroke-width="2"/>
<text x="506.9" y="509.6" textLength="12.8" lengthAdjust="spacingAndGlyphs" class="tk">10</text>
<path d="M527.8 488.6H530.9" stroke="#111" stroke-width="1.3"/>
<path d="M527.8 479.7H530.9" stroke="#111" stroke-width="1.3"/>
<path d="M527.8 473.4H530.9" stroke="#111" stroke-width="1.3"/>
<path d="M527.8 468.5H530.9" stroke="#111" stroke-width="1.3"/>
<path d="M527.8 464.5H530.9" stroke="#111" stroke-width="1.3"/>
<path d="M527.8 461.1H530.9" stroke="#111" stroke-width="1.3"/>
<path d="M527.8 458.2H530.9" stroke="#111" stroke-width="1.3"/>
<path d="M527.8 455.6H530.9" stroke="#111" stroke-width="1.3"/>
<path d="M524.7 453.3H530.9" stroke="#111" stroke-width="2"/>
<text x="500.5" y="459.2" textLength="19.2" lengthAdjust="spacingAndGlyphs" class="tk">100</text>
<path d="M527.8 438.1H530.9" stroke="#111" stroke-width="1.3"/>
<path d="M527.8 429.2H530.9" stroke="#111" stroke-width="1.3"/>
<path d="M527.8 422.9H530.9" stroke="#111" stroke-width="1.3"/>
<path d="M527.8 418.0H530.9" stroke="#111" stroke-width="1.3"/>
<path d="M527.8 414.0H530.9" stroke="#111" stroke-width="1.3"/>
<path d="M527.8 410.7H530.9" stroke="#111" stroke-width="1.3"/>
<path d="M527.8 407.7H530.9" stroke="#111" stroke-width="1.3"/>
<path d="M527.8 405.2H530.9" stroke="#111" stroke-width="1.3"/>
<path d="M524.7 402.9H530.9" stroke="#111" stroke-width="2"/>
<text x="494.1" y="408.8" textLength="25.6" lengthAdjust="spacingAndGlyphs" class="tk">1000</text>
<path d="M576.4 604.6v4.0" stroke="#111" stroke-width="1.6"/>
<path d="M621.9 604.6v6.6" stroke="#111" stroke-width="2.1"/>
<path d="M667.5 604.6v4.0" stroke="#111" stroke-width="1.6"/>
<path d="M713.0 604.6v6.6" stroke="#111" stroke-width="2.1"/>
<path d="M758.5 604.6v4.0" stroke="#111" stroke-width="1.6"/>
<path d="M804.0 604.6v6.6" stroke="#111" stroke-width="2.1"/>
<text x="529.7" y="627.0" text-anchor="middle" class="tk">0</text>
<text x="621.6" y="627.0" text-anchor="middle" class="tk">1 0</text>
<text x="712.7" y="627.0" text-anchor="middle" class="tk">2 0</text>
<text x="803.7" y="627.0" text-anchor="middle" class="tk">3 0</text>

<text x="697.6" y="586.8" class="tt">80% STENOSIS</text>
<path d="M558.2 493.5V477.6" stroke="#111" stroke-width="1.5" fill="none"/><path d="M554.6 493.5h7.2M554.6 477.6h7.2" stroke="#111" stroke-width="1.9" fill="none"/>
<path d="M576.4 469.4V455.6" stroke="#111" stroke-width="1.5" fill="none"/><path d="M572.8 469.4h7.2M572.8 455.6h7.2" stroke="#111" stroke-width="1.9" fill="none"/>
<path d="M621.9 443.7V430.4" stroke="#111" stroke-width="1.5" fill="none"/><path d="M618.3 443.7h7.2M618.3 430.4h7.2" stroke="#111" stroke-width="1.9" fill="none"/>
<path d="M667.5 441.7V425.2" stroke="#111" stroke-width="1.5" fill="none"/><path d="M663.9 441.7h7.2M663.9 425.2h7.2" stroke="#111" stroke-width="1.9" fill="none"/>
<path d="M576.4 498.0V476.3" stroke="#111" stroke-width="1.5" fill="none"/><path d="M572.8 498.0h7.2M572.8 476.3h7.2" stroke="#111" stroke-width="1.9" fill="none"/>
<path d="M621.9 476.3V461.1" stroke="#111" stroke-width="1.5" fill="none"/><path d="M618.3 476.3h7.2M618.3 461.1h7.2" stroke="#111" stroke-width="1.9" fill="none"/>
<path d="M667.5 478.3V456.1" stroke="#111" stroke-width="1.5" fill="none"/><path d="M663.9 478.3h7.2M663.9 456.1h7.2" stroke="#111" stroke-width="1.9" fill="none"/>
<path d="M540.0 569.4V558.3" stroke="#111" stroke-width="1.5" fill="none"/><path d="M536.4 569.4h7.2M536.4 558.3h7.2" stroke="#111" stroke-width="1.9" fill="none"/>
<path d="M540.0 589.5V569.4" stroke="#111" stroke-width="1.5" fill="none"/><path d="M536.4 589.5h7.2M536.4 569.4h7.2" stroke="#111" stroke-width="1.9" fill="none"/>
<path d="M558.2 530.1V518.1" stroke="#111" stroke-width="1.5" fill="none"/><path d="M554.6 530.1h7.2M554.6 518.1h7.2" stroke="#111" stroke-width="1.9" fill="none"/>
<path d="M576.4 510.9V493.5" stroke="#111" stroke-width="1.5" fill="none"/><path d="M572.8 510.9h7.2M572.8 493.5h7.2" stroke="#111" stroke-width="1.9" fill="none"/>
<path d="M621.9 483.7V469.8" stroke="#111" stroke-width="1.5" fill="none"/><path d="M618.3 483.7h7.2M618.3 469.8h7.2" stroke="#111" stroke-width="1.9" fill="none"/>
<path d="M667.5 493.5V473.4" stroke="#111" stroke-width="1.5" fill="none"/><path d="M663.9 493.5h7.2M663.9 473.4h7.2" stroke="#111" stroke-width="1.9" fill="none"/>
<polyline points="540.0,526.4 558.2,484.6 576.4,461.1 621.9,435.7 667.5,431.9 713.0,418.8 804.0,422.3" fill="none" stroke="#111" stroke-width="2.3" stroke-linejoin="round"/>
<polyline points="540.0,539.0 558.2,505.1 576.4,487.5 621.9,468.5 667.5,468.5 713.0,459.6 804.0,461.1" fill="none" stroke="#111" stroke-width="2.3" stroke-linejoin="round"/>
<polyline points="540.0,554.2 558.2,510.1 576.4,492.1 621.9,469.4 667.5,466.4 713.0,462.4 804.0,463.1" fill="none" stroke="#111" stroke-width="2.3" stroke-linejoin="round"/>
<polyline points="540.0,558.3 558.2,516.5 576.4,496.4 621.9,472.3 667.5,479.0 713.0,470.3 804.0,471.3" fill="none" stroke="#111" stroke-width="2.3" stroke-linejoin="round"/>
<polyline points="540.0,555.3 558.2,523.8 576.4,500.7 621.9,475.7 667.5,482.0 713.0,466.0 804.0,465.6" fill="none" stroke="#111" stroke-width="2.3" stroke-linejoin="round"/>
<rect x="536.5" y="522.9" width="7.0" height="7.0" fill="#111"/><rect x="539.0" y="525.4" width="2.0" height="2.0" fill="#ddd"/>
<rect x="554.7" y="481.1" width="7.0" height="7.0" fill="#111"/><rect x="557.2" y="483.6" width="2.0" height="2.0" fill="#ddd"/>
<rect x="572.9" y="457.6" width="7.0" height="7.0" fill="#111"/><rect x="575.4" y="460.1" width="2.0" height="2.0" fill="#ddd"/>
<rect x="618.4" y="432.2" width="7.0" height="7.0" fill="#111"/><rect x="620.9" y="434.7" width="2.0" height="2.0" fill="#ddd"/>
<rect x="664.0" y="428.4" width="7.0" height="7.0" fill="#111"/><rect x="666.5" y="430.9" width="2.0" height="2.0" fill="#ddd"/>
<rect x="709.5" y="415.3" width="7.0" height="7.0" fill="#111"/><rect x="712.0" y="417.8" width="2.0" height="2.0" fill="#ddd"/>
<rect x="800.5" y="418.8" width="7.0" height="7.0" fill="#111"/><rect x="803.0" y="421.3" width="2.0" height="2.0" fill="#ddd"/>
<rect x="537.4" y="536.4" width="5.2" height="5.2" fill="#eee" stroke="#111" stroke-width="2"/><rect x="539.3" y="538.3" width="1.4" height="1.4" fill="#666"/>
<rect x="555.6" y="502.5" width="5.2" height="5.2" fill="#eee" stroke="#111" stroke-width="2"/><rect x="557.5" y="504.4" width="1.4" height="1.4" fill="#666"/>
<rect x="573.8" y="484.9" width="5.2" height="5.2" fill="#eee" stroke="#111" stroke-width="2"/><rect x="575.7" y="486.8" width="1.4" height="1.4" fill="#666"/>
<rect x="619.3" y="465.9" width="5.2" height="5.2" fill="#eee" stroke="#111" stroke-width="2"/><rect x="621.2" y="467.8" width="1.4" height="1.4" fill="#666"/>
<rect x="664.9" y="465.9" width="5.2" height="5.2" fill="#eee" stroke="#111" stroke-width="2"/><rect x="666.8" y="467.8" width="1.4" height="1.4" fill="#666"/>
<rect x="710.4" y="457.0" width="5.2" height="5.2" fill="#eee" stroke="#111" stroke-width="2"/><rect x="712.3" y="458.9" width="1.4" height="1.4" fill="#666"/>
<rect x="801.4" y="458.5" width="5.2" height="5.2" fill="#eee" stroke="#111" stroke-width="2"/><rect x="803.3" y="460.4" width="1.4" height="1.4" fill="#666"/>
<path d="M536.0 554.2L540.0 550.2L544.0 554.2L540.0 558.2Z" fill="#111"/>
<path d="M554.2 510.1L558.2 506.1L562.2 510.1L558.2 514.1Z" fill="#111"/>
<path d="M572.4 492.1L576.4 488.1L580.4 492.1L576.4 496.1Z" fill="#111"/>
<path d="M617.9 469.4L621.9 465.4L625.9 469.4L621.9 473.4Z" fill="#111"/>
<path d="M663.5 466.4L667.5 462.4L671.5 466.4L667.5 470.4Z" fill="#111"/>
<path d="M709.0 462.4L713.0 458.4L717.0 462.4L713.0 466.4Z" fill="#111"/>
<path d="M800.0 463.1L804.0 459.1L808.0 463.1L804.0 467.1Z" fill="#111"/>
<path d="M536.7 558.3L540.0 555.0L543.3 558.3L540.0 561.6Z" fill="#333" stroke="#111" stroke-width="1.6" stroke-linejoin="round"/>
<path d="M554.9 516.5L558.2 513.2L561.5 516.5L558.2 519.8Z" fill="#333" stroke="#111" stroke-width="1.6" stroke-linejoin="round"/>
<path d="M573.1 496.4L576.4 493.1L579.7 496.4L576.4 499.7Z" fill="#333" stroke="#111" stroke-width="1.6" stroke-linejoin="round"/>
<path d="M618.6 472.3L621.9 469.0L625.2 472.3L621.9 475.6Z" fill="#333" stroke="#111" stroke-width="1.6" stroke-linejoin="round"/>
<path d="M664.2 479.0L667.5 475.7L670.8 479.0L667.5 482.3Z" fill="#333" stroke="#111" stroke-width="1.6" stroke-linejoin="round"/>
<path d="M709.7 470.3L713.0 467.0L716.3 470.3L713.0 473.6Z" fill="#333" stroke="#111" stroke-width="1.6" stroke-linejoin="round"/>
<path d="M800.7 471.3L804.0 468.0L807.3 471.3L804.0 474.6Z" fill="#333" stroke="#111" stroke-width="1.6" stroke-linejoin="round"/>
<rect x="536.4" y="551.7" width="7.2" height="7.2" fill="#111"/>
<rect x="554.6" y="520.2" width="7.2" height="7.2" fill="#111"/>
<rect x="572.8" y="497.1" width="7.2" height="7.2" fill="#111"/>
<rect x="618.3" y="472.1" width="7.2" height="7.2" fill="#111"/>
<rect x="663.9" y="478.4" width="7.2" height="7.2" fill="#111"/>
<rect x="709.4" y="462.4" width="7.2" height="7.2" fill="#111"/>
<rect x="800.4" y="462.0" width="7.2" height="7.2" fill="#111"/>
</g>
<g transform="translate(102.4 332.5) rotate(-90) scale(1 1.14)"><text x="0" y="0" class="yl">PLATELET DEPOSITION (x10</text><text x="180.5" y="-12.8" class="yl" style="font-size:9.2px">5</text><text x="187.8" y="0" class="yl" textLength="27.2" lengthAdjust="spacingAndGlyphs">/mm)</text></g>
<g transform="translate(102.4 613.3) rotate(-90) scale(1 1.14)"><text x="0" y="0" class="yl">PLATELET DEPOSITION (x10</text><text x="182.3" y="-12.8" class="yl" style="font-size:9.2px">5</text><text x="186.6" y="0" class="yl" textLength="27.2" lengthAdjust="spacingAndGlyphs">/mm)</text></g>
<path d="M841 286.7H855.2" stroke="#111" stroke-width="1.6"/>
<g transform="translate(848.0 286.7) scale(0.86) translate(-848.0 -286.7)"><rect x="845.4" y="284.1" width="5.2" height="5.2" fill="#eee" stroke="#111" stroke-width="2"/><rect x="847.3" y="286.0" width="1.4" height="1.4" fill="#666"/></g>
<text x="865.3" y="291.1" class="lg">AREA 2</text>
<path d="M841 302.0H855.2" stroke="#111" stroke-width="1.6"/>
<path d="M844.0 302.0L848.0 298.0L852.0 302.0L848.0 306.0Z" fill="#111"/>
<text x="865.3" y="306.4" class="lg">AREA 3</text>
<path d="M841 317.3H855.2" stroke="#111" stroke-width="1.6"/>
<g transform="translate(848.0 317.3) scale(0.86) translate(-848.0 -317.3)"><rect x="844.5" y="313.8" width="7.0" height="7.0" fill="#111"/><rect x="847.0" y="316.3" width="2.0" height="2.0" fill="#ddd"/></g>
<text x="865.3" y="321.7" class="lg">AREA 4</text>
<path d="M841 332.6H855.2" stroke="#111" stroke-width="1.6"/>
<path d="M844.7 332.6L848.0 329.3L851.3 332.6L848.0 335.9Z" fill="#333" stroke="#111" stroke-width="1.6" stroke-linejoin="round"/>
<text x="865.3" y="337.0" class="lg">AREA 5</text>
<path d="M841 347.6H855.2" stroke="#111" stroke-width="1.6"/>
<g transform="translate(848.0 347.6) scale(0.86) translate(-848.0 -347.6)"><rect x="844.4" y="344.0" width="7.2" height="7.2" fill="#111"/></g>
<text x="865.3" y="352.0" class="lg">AREA 6</text>
<text x="295.2" y="642.6" text-anchor="middle" class="tt">PERFUSION TIME (MIN)</text>
<text x="665.0" y="644.2" text-anchor="middle" class="tt">PERFUSION TIME (MIN)</text>
</svg>
<div class="cap j" style="left:82px;top:660.1px;width:819.5px"><i>Figure 6.</i> Values of platelet deposition (<span class="x">×</span>10<sup>5</sup>/mm±1 SEM) on the individual axial segments along the perfusion time. Blood was perfused at a</div>
<div class="cap" style="left:82px;top:674.8px;width:819px">flow rate of 10 ml/min.</div>
<div class="ln j" style="left:82.2px;top:753.63px;width:400.6px">(22, 23). A similar pattern of distribution was reported in</div>
<div class="ln j" style="left:82.2px;top:772.10px;width:400.6px">platelet deposition on collagen-coated surfaces (24). At a shear</div>
<div class="ln j" style="left:82.2px;top:790.57px;width:400.6px">rate of 850 s<sup>−1</sup> the distribution of platelets decreasing distally</div>
<div class="ln j" style="left:82.2px;top:809.04px;width:400.6px">along the flow axis was less marked but still significant. How-</div>
<div class="ln j" style="left:82.2px;top:827.51px;width:400.6px">ever, at a shear rate of 1,250 s<sup>−1</sup> platelet distribution was uni-</div>
<div class="ln j" style="left:82.2px;top:845.98px;width:400.6px">form along the flow axis (Fig. 5). Blood flow rates of 40 and 60</div>
<div class="ln j" style="left:82.2px;top:864.45px;width:400.6px">ml/min induced high shear rate conditions in which very sig-</div>
<div class="ln j" style="left:82.2px;top:882.92px;width:400.6px">nificant thrombus growth rates occurred even in laminar flow</div>
<div class="ln j" style="left:82.2px;top:901.39px;width:400.6px">(26 <span class="x">×</span> 10<sup>6</sup> and 33 <span class="x">×</span> 10<sup>6</sup> platelets/cm<sup>2</sup> · min<sup>−1</sup>, respectively, at 5</div>
<div class="ln j" style="left:82.2px;top:919.86px;width:400.6px">min of perfusion). A blood flow rate of 10 ml/min induced a</div>
<div class="ln j" style="left:82.2px;top:938.33px;width:400.6px">thrombus growth rate of 13 <span class="x">×</span> 10<sup>6</sup> platelets/cm<sup>2</sup> · min<sup>−1</sup> at 5</div>
<div class="ln" style="left:82.2px;top:956.80px;width:400.6px">min of perfusion.</div>
<div class="ln j" style="left:105.2px;top:975.27px;width:377.6px">At any flow rate total platelet deposition increased with the</div>
<div class="ln j" style="left:82.2px;top:993.74px;width:400.6px">increasing degrees of stenosis from 0 to 80% of occlusion.</div>
<div class="ln j" style="left:82.2px;top:1012.21px;width:400.6px">However, platelet accumulation on the apex of the stenosis</div>
<div class="ln j" style="left:82.2px;top:1030.68px;width:400.6px">(segment 4) with regard to the areas in its vicinity (segments 2,</div>
<div class="ln j" style="left:82.2px;top:1049.15px;width:400.6px">3, 5, and 6) was significantly increased when the stenosis was</div>
<div class="ln j" style="left:82.2px;top:1066.93px;width:400.6px">&gt; 55% at a flow rate of 10 ml/min. At flow rates of 40 and 60</div>
<div class="ln j" style="left:82.2px;top:1084.96px;width:400.6px">ml/min significant increases in platelet deposition on the apex</div>
<div class="ln j" style="left:82.2px;top:1102.99px;width:400.6px">were already observed with a 35% stenosis. An increase in flow</div>
<div class="ln j" style="left:82.2px;top:1121.02px;width:400.6px">rate without modification of geometry produces an increase in</div>
<div class="ln j" style="left:82.2px;top:1139.05px;width:400.6px">shear rate and we have previously shown that platelet deposi-</div>
<div class="ln j" style="left:82.2px;top:1157.08px;width:400.6px">tion increases with shear rate on thrombogenic surfaces (2, 3,</div>
<div class="ln j" style="left:82.2px;top:1175.11px;width:400.6px">5). A small narrowing (35%) on a geometry with a shear rate of</div>
<div class="ln j" style="left:82.2px;top:1193.14px;width:400.6px">850 or 1,250 s<sup>−1</sup> induces a more potent stimulus for platelet</div>
<div class="ln j" style="left:82.2px;top:1211.17px;width:400.6px">activation and deposition than the same narrowing at a local</div>
<div class="ln" style="left:82.2px;top:1229.20px;width:400.6px">shear rate of 212 s<sup>−1</sup>.</div>
<div class="ln j" style="left:533.9px;top:753.13px;width:377.0px">At a flow rate of 10 ml/min when the stenosis was 35%</div>
<div class="ln j" style="left:510.9px;top:771.55px;width:400.0px">there was a slightly higher accumulation of platelets on the</div>
<div class="ln j" style="left:510.9px;top:789.97px;width:400.0px">apex of the stenosis (segment 4); however, in 55 and 80% the</div>
<div class="ln j" style="left:510.9px;top:808.39px;width:400.0px">percentage of platelets accumulated on the apex was signifi-</div>
<div class="ln j" style="left:510.9px;top:826.81px;width:400.0px">cantly higher than in any other area of the perfused substrate.</div>
<div class="ln j" style="left:510.9px;top:845.23px;width:400.0px">At flow rates of 40 and 60 ml/min the accumulation in seg-</div>
<div class="ln j" style="left:510.9px;top:863.65px;width:400.0px">ment 4 was significantly greater than in the other segments</div>
<div class="ln j" style="left:510.9px;top:882.07px;width:400.0px">already at 35% stenosis. Hence, platelets accumulate on top of</div>
<div class="ln j" style="left:510.9px;top:900.49px;width:400.0px">the stenosis, not in the area of impact (proximal to stenosis,</div>
<div class="ln j" style="left:510.9px;top:918.91px;width:400.0px">segment 3) or vortex (segment 5). It is interesting that this</div>
<div class="ln j" style="left:510.9px;top:937.33px;width:400.0px">distribution was already attained at 1 min of perfusion. When</div>
<div class="ln j" style="left:510.9px;top:955.75px;width:400.0px">the deposition on segment 4 was analyzed at different perfu-</div>
<div class="ln j" style="left:510.9px;top:974.17px;width:400.0px">sion times and percentages of stenosis, there was a significant</div>
<div class="ln j" style="left:510.9px;top:992.59px;width:400.0px">effect of time, stenosis, and the combination of both factors in</div>
<div class="ln" style="left:510.9px;top:1011.01px;width:400.0px">thrombus growth.</div>
<div class="ln j" style="left:533.9px;top:1029.43px;width:377.0px">Upon plaque rupture and exposure of intraplaque throm-</div>
<div class="ln j" style="left:510.9px;top:1047.85px;width:400.0px">bogenic material to blood flow the residual remodeled plaque</div>
<div class="ln j" style="left:510.9px;top:1065.58px;width:400.0px">will influence the luminal area; hence, the sudden change in</div>
<div class="ln j" style="left:510.9px;top:1083.56px;width:400.0px">local flow factors and the substrate reactivity will increase the</div>
<div class="ln" style="left:510.9px;top:1101.54px;width:400.0px">likelihood of an acute thrombotic occlusion.</div>
<div class="ln j" style="left:533.9px;top:1119.52px;width:377.0px">Cell wall encounters arise from the continual shear-in-</div>
<div class="ln j" style="left:510.9px;top:1137.50px;width:400.0px">duced collisions between red cells that lead to lateral displace-</div>
<div class="ln j" style="left:510.9px;top:1155.48px;width:400.0px">ments of their paths as well as those of white cells and platelets.</div>
<div class="ln j" style="left:510.9px;top:1173.46px;width:400.0px">Thus, cells flowing in the periphery of vessels are frequently</div>
<div class="ln j" style="left:510.9px;top:1191.44px;width:400.0px">displaced to the wall (20). The hematocrit has, therefore, a very</div>
<div class="ln j" style="left:510.9px;top:1209.42px;width:400.0px">important role in cell-wall interaction. In our studies the he-</div>
<div class="ln j" style="left:510.9px;top:1227.40px;width:400.0px">matocrit was similar in all the experiments and cannot be</div>
<div class="ft" style="left:583.4px;top:1267.8px;width:277px"><i>Mechanisms of Arterial Thrombosis on Stenosis</i></div>
<div class="pn" style="left:884px;top:1269.6px">1141</div>
</div>
</body>
</html>
